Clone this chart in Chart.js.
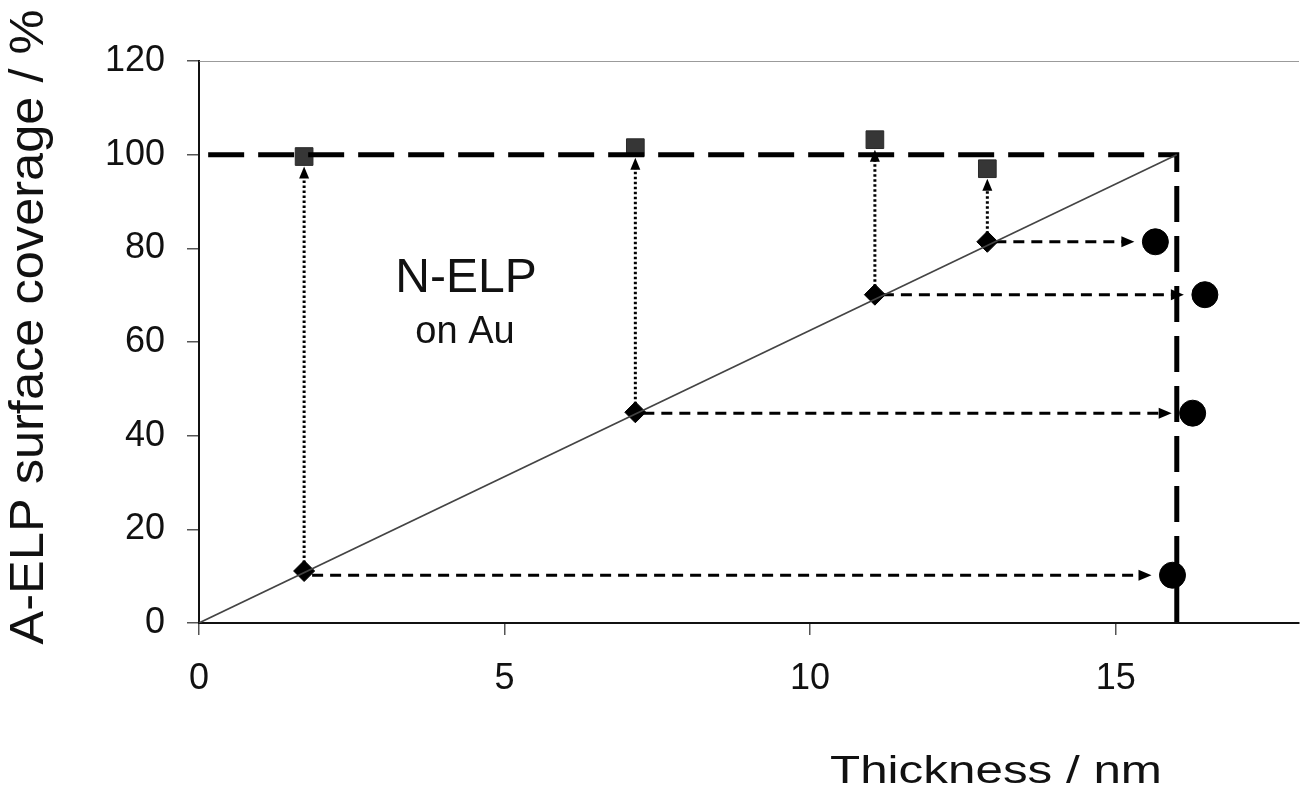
<!DOCTYPE html>
<html>
<head>
<meta charset="utf-8">
<script src="https://cdn.jsdelivr.net/npm/chart.js@4/dist/chart.umd.min.js"></script>
<style>
  html, body { margin: 0; padding: 0; background: #fff; }
  canvas { display: block; }
</style>
</head>
<body>
<canvas id="chart" width="1301" height="798"></canvas>
<script>
// Axis ticks
const xTicks = [0, 5, 10, 15];
const yTicks = [0, 20, 40, 60, 80, 100, 120];

// Measured N-ELP layers (thickness nm, A-ELP coverage %)
const layerThickness = [1.72, 7.14, 11.06, 12.90];
const layerCoverage  = [11.1, 45.0, 70.1, 81.4];

// Coverage measured after A-ELP adsorption (same thickness)
const adsorbedCoverage = [99.6, 101.5, 103.2, 97.0];

// Thickness measured after A-ELP adsorption
const finalThickness = [15.93, 16.26, 16.46, 15.65];
const finalCoverage  = [10.2, 44.8, 70.1, 81.4];

// Full monolayer limit
const limitThickness = [0.15, 16, 16];
const limitCoverage  = [100, 100, 0];

// Ideal linear relation
const idealThickness = [0, 16];
const idealCoverage  = [0, 100];

const xTitle = 'Thickness / nm';
const yTitle = 'A-ELP surface coverage / %';
const noteMain = 'N-ELP';
const noteSub = 'on Au';

const FONT = '"Liberation Sans", Arial, Helvetica, sans-serif';
const pts = (xs, ys) => xs.map((x, i) => ({ x, y: ys[i] }));

// Arrows: dotted from each layer point up to its adsorbed point,
// dashed from each layer point right to its final thickness point.
const arrowPlugin = {
  id: 'arrows',
  beforeDatasetsDraw(chart) {
    const { ctx, scales: { x, y } } = chart;
    const head = (tx, ty, dir, len, half) => {
      ctx.save();
      ctx.setLineDash([]);
      ctx.beginPath();
      if (dir === 'up') {
        ctx.moveTo(tx, ty);
        ctx.lineTo(tx - half, ty + len);
        ctx.lineTo(tx + half, ty + len);
      } else {
        ctx.moveTo(tx, ty);
        ctx.lineTo(tx - len, ty - half);
        ctx.lineTo(tx - len, ty + half);
      }
      ctx.closePath();
      ctx.fill();
      ctx.restore();
    };
    ctx.save();
    ctx.fillStyle = '#000';
    ctx.strokeStyle = '#000';
    layerThickness.forEach((t, i) => {
      const px = x.getPixelForValue(t);
      const py = y.getPixelForValue(layerCoverage[i]);
      // vertical dotted arrow
      const topY = y.getPixelForValue(adsorbedCoverage[i]) + 10;
      ctx.lineWidth = 3;
      ctx.setLineDash([2.5, 2.5]);
      ctx.beginPath();
      ctx.moveTo(px, py - 8);
      ctx.lineTo(px, topY + 8);
      ctx.stroke();
      head(px, topY, 'up', 12, 5);
      // horizontal dashed arrow
      const cy = y.getPixelForValue(finalCoverage[i]);
      const tipX = x.getPixelForValue(finalThickness[i]) - 21;
      ctx.lineWidth = 3;
      ctx.setLineDash([11, 7]);
      ctx.beginPath();
      ctx.moveTo(px + 8, cy);
      ctx.lineTo(tipX - 10, cy);
      ctx.stroke();
      head(tipX, cy, 'right', 13, 5.5);
    });
    ctx.restore();
  }
};

// Axis titles and in-plot note
const textPlugin = {
  id: 'texts',
  afterDraw(chart) {
    const { ctx } = chart;
    ctx.save();
    ctx.fillStyle = '#111';
    ctx.textAlign = 'center';
    ctx.textBaseline = 'alphabetic';

    ctx.font = '48px ' + FONT;
    ctx.fillText(noteMain, 466, 292);
    ctx.font = '38px ' + FONT;
    ctx.fillText(noteSub, 465, 343);

    // x title, drawn slightly wide
    ctx.save();
    ctx.font = '39px ' + FONT;
    let w = ctx.measureText(xTitle).width;
    ctx.translate(996, 783);
    ctx.scale(332 / w, 1);
    ctx.fillText(xTitle, 0, 0);
    ctx.restore();

    // y title, rotated
    ctx.save();
    ctx.font = '48px ' + FONT;
    w = ctx.measureText(yTitle).width;
    ctx.translate(43, 327);
    ctx.rotate(-Math.PI / 2);
    ctx.scale(635 / w, 1);
    ctx.fillText(yTitle, 0, 0);
    ctx.restore();

    ctx.restore();
  }
};

new Chart(document.getElementById('chart'), {
  type: 'scatter',
  data: {
    datasets: [
      {
        data: pts([0, 18], [120, 120]),
        showLine: true, borderColor: '#7a7a7a', borderWidth: 1.5,
        pointRadius: 0
      },
      {
        data: pts(idealThickness, idealCoverage),
        showLine: true, borderColor: '#444', borderWidth: 1.6,
        pointRadius: 0
      },
      {
        data: pts(limitThickness, limitCoverage),
        showLine: true, borderColor: '#000', borderWidth: 5,
        borderDash: [36, 14], borderCapStyle: 'butt',
        pointRadius: 0
      },
      {
        data: pts(layerThickness, adsorbedCoverage),
        pointStyle: 'rect', pointRadius: 12.5,
        backgroundColor: '#363636', borderColor: '#2a2a2a', borderWidth: 1
      },
      {
        data: pts(finalThickness, finalCoverage),
        pointStyle: 'circle', pointRadius: 13,
        backgroundColor: '#000', borderColor: '#000', borderWidth: 1
      },
      {
        data: pts(layerThickness, layerCoverage),
        pointStyle: 'rectRot', pointRadius: 10.5,
        backgroundColor: '#000', borderColor: '#000', borderWidth: 1
      }
    ]
  },
  options: {
    responsive: false,
    animation: false,
    devicePixelRatio: 1,
    layout: { autoPadding: false, padding: { top: 61, right: 2, left: 0, bottom: 0 } },
    plugins: { legend: { display: false }, tooltip: { enabled: false } },
    scales: {
      x: {
        type: 'linear', min: 0, max: 18,
        afterBuildTicks: s => { s.ticks = xTicks.map(v => ({ value: v })); },
        afterFit: s => { s.height = 175; s.paddingLeft = 0; s.paddingRight = 0; },
        ticks: { font: { family: FONT, size: 36 }, color: '#111', padding: 22 },
        grid: { drawOnChartArea: false, drawTicks: true, tickLength: 12, color: '#555', lineWidth: 1.5 },
        border: { color: '#111', width: 2 }
      },
      y: {
        type: 'linear', min: 0, max: 120,
        afterBuildTicks: s => { s.ticks = yTicks.map(v => ({ value: v })); },
        afterFit: s => { s.width = 199; },
        ticks: { font: { family: FONT, size: 36 }, color: '#111', padding: 22 },
        grid: { drawOnChartArea: false, drawTicks: true, tickLength: 12, color: '#555', lineWidth: 1.5 },
        border: { color: '#111', width: 2 }
      }
    }
  },
  plugins: [arrowPlugin, textPlugin]
});
</script>
</body>
</html>
